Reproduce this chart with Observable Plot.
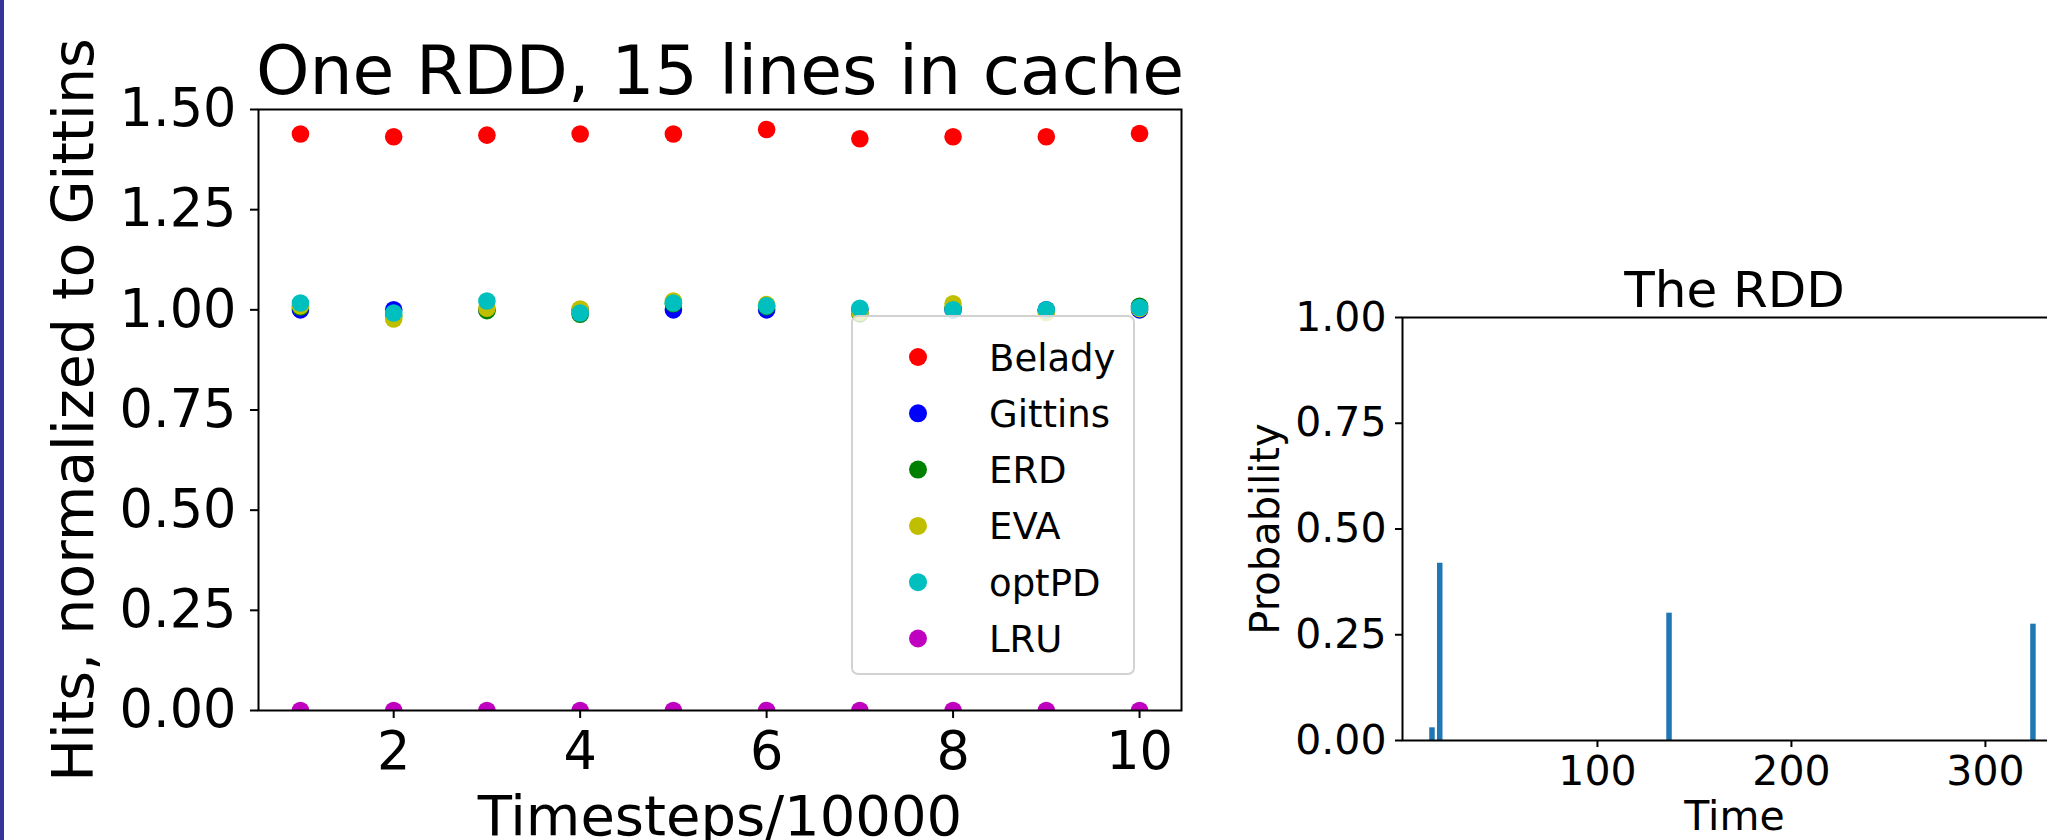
<!DOCTYPE html>
<html>
<head>
<meta charset="utf-8">
<script src="https://cdn.jsdelivr.net/npm/d3@7"></script>
<script src="https://cdn.jsdelivr.net/npm/@observablehq/plot@0.6"></script>
<style>
html, body { margin: 0; padding: 0; background: #fff; overflow: hidden; width: 2047px; height: 840px; }
#stage { position: relative; width: 2047px; height: 840px; overflow: hidden; font-family: "DejaVu Sans", sans-serif; background: #fff; }
#border { position: absolute; left: 0; top: 0; width: 4px; height: 840px; background: #34349a; }
.holder { position: absolute; top: 0; }
.holder svg { max-width: none !important; }
</style>
</head>
<body>
<div id="stage"><div id="border"></div></div>
<script>
// ---------- data: left chart ----------
const leftTitle = "One RDD, 15 lines in cache";
const leftXLabel = "Timesteps/10000";
const leftYLabel = "Hits, normalized to Gittins";
const timesteps = [1, 2, 3, 4, 5, 6, 7, 8, 9, 10];
const seriesNames = ["Belady", "Gittins", "ERD", "EVA", "optPD", "LRU"];
const seriesColors = ["#ff0000", "#0000ff", "#008000", "#bfbf00", "#00bfbf", "#bf00bf"];
const belady  = [1.439, 1.432, 1.436, 1.439, 1.439, 1.450, 1.427, 1.432, 1.432, 1.440];
const gittins = [1.000, 1.000, 1.000, 1.000, 1.000, 1.000, 1.000, 1.000, 1.000, 1.000];
const erd     = [1.007, 0.985, 0.998, 0.989, 1.015, 1.008, 0.990, 1.005, 0.997, 1.009];
const eva     = [1.010, 0.977, 1.004, 1.002, 1.022, 1.013, 0.994, 1.015, 0.993, 1.003];
const optpd   = [1.017, 0.992, 1.022, 0.992, 1.017, 1.010, 1.004, 1.000, 1.000, 1.006];
const lru     = [0, 0, 0, 0, 0, 0, 0, 0, 0, 0];
const leftXTicks = [2, 4, 6, 8, 10];
const leftYTicks = [0, 0.25, 0.5, 0.75, 1.0, 1.25, 1.5];

// ---------- data: right chart ----------
const rightTitle = "The RDD";
const rightXLabel = "Time";
const rightYLabel = "Probability";
const rddTimes = [14.7, 18.7, 136.9, 324.5];
const rddProbs = [0.030, 0.419, 0.301, 0.275];
const rightXTicks = [100, 200, 300];
const rightYTicks = [0, 0.25, 0.5, 0.75, 1.0];

const seriesValues = [belady, gittins, erd, eva, optpd, lru];
const rows = [];
seriesNames.forEach((name, i) => {
  timesteps.forEach((t, j) => rows.push({series: name, t, v: seriesValues[i][j]}));
});
const rdd = rddTimes.map((t, i) => ({t, p: rddProbs[i]}));

const FONT = "DejaVu Sans";
const stage = document.getElementById("stage");

// ---------- left chart ----------
const left = Plot.plot({
  width: 1240, height: 840,
  marginLeft: 258, marginRight: 59, marginTop: 109, marginBottom: 130,
  style: {fontFamily: FONT, fontSize: "52px", color: "black", background: "transparent", overflow: "visible"},
  x: {domain: [0.55, 10.45]},
  y: {domain: [0, 1.5]},
  color: {domain: seriesNames, range: seriesColors},
  marks: [
    Plot.dot(rows, {x: "t", y: "v", fill: "series", r: 8.8, clip: true}),
    Plot.frame({stroke: "black", strokeWidth: 2}),
    Plot.axisX({ticks: leftXTicks, tickSize: 8, tickPadding: 13, fontSize: 52.5, strokeWidth: 2, label: null, tickFormat: d => String(d)}),
    Plot.axisY({ticks: leftYTicks, tickSize: 8, tickPadding: 14, fontSize: 52.5, strokeWidth: 2, label: null, tickFormat: d3.format(".2f")}),
    Plot.text([leftTitle], {frameAnchor: "top", dy: -37, fontSize: 68, textAnchor: "middle", lineAnchor: "middle", fill: "black"}),
    Plot.text([leftXLabel], {frameAnchor: "bottom", dy: 107, fontSize: 56, textAnchor: "middle", lineAnchor: "middle", fill: "black"}),
    Plot.text([leftYLabel], {frameAnchor: "left", dx: -184, rotate: -90, fontSize: 57, textAnchor: "middle", lineAnchor: "middle", fill: "black"})
  ]
});
const lh = document.createElement("div");
lh.className = "holder";
lh.style.left = "0px";
lh.style.width = "1240px";
lh.appendChild(left);
stage.appendChild(lh);

// ---------- right chart ----------
const right = Plot.plot({
  width: 906, height: 840,
  marginLeft: 202, marginRight: 40, marginTop: 317, marginBottom: 100,
  style: {fontFamily: FONT, fontSize: "41px", color: "black", background: "transparent", overflow: "visible"},
  x: {domain: [-0.5, 341.8]},
  y: {domain: [0, 1]},
  marks: [
    Plot.ruleX(rdd, {x: "t", y1: 0, y2: "p", stroke: "#1f77b4", strokeWidth: 5.5}),
    Plot.frame({stroke: "black", strokeWidth: 2}),
    Plot.axisX({ticks: rightXTicks, tickSize: 7, tickPadding: 8, fontSize: 41, strokeWidth: 2, label: null, tickFormat: d => String(d)}),
    Plot.axisY({ticks: rightYTicks, tickSize: 7, tickPadding: 9, fontSize: 41, strokeWidth: 2, label: null, tickFormat: d3.format(".2f")}),
    Plot.text([rightTitle], {frameAnchor: "top", dy: -27, fontSize: 50, textAnchor: "middle", lineAnchor: "middle", fill: "black"}),
    Plot.text([rightXLabel], {frameAnchor: "bottom", dy: 76, fontSize: 41, textAnchor: "middle", lineAnchor: "middle", fill: "black"}),
    Plot.text([rightYLabel], {frameAnchor: "left", dx: -136, rotate: -90, fontSize: 40, textAnchor: "middle", lineAnchor: "middle", fill: "black"})
  ]
});
const rh = document.createElement("div");
rh.className = "holder";
rh.style.left = "1200px";
rh.style.width = "906px";
rh.appendChild(right);
stage.appendChild(rh);

// ---------- legend ----------
const legBox = {left: 851, top: 315, width: 284, height: 360, border: 2};
const leg = document.createElement("div");
leg.style.cssText = `position:absolute;left:${legBox.left}px;top:${legBox.top}px;width:${legBox.width}px;height:${legBox.height}px;box-sizing:border-box;border:${legBox.border}px solid #d2d2d2;border-radius:7px;background:rgba(255,255,255,0.8);`;
stage.appendChild(leg);
const inner = legBox.width - 2 * legBox.border, innerH = legBox.height - 2 * legBox.border;
const lsvg = d3.select(leg).append("svg")
  .attr("width", inner).attr("height", innerH)
  .style("display", "block")
  .style("font-family", FONT);
const ox = legBox.left + legBox.border, oy = legBox.top + legBox.border;
const rowY = i => 357 + i * 56.3 - oy;
seriesNames.forEach((name, i) => {
  lsvg.append("circle").attr("cx", 918 - ox).attr("cy", rowY(i)).attr("r", 9).attr("fill", seriesColors[i]);
  lsvg.append("text").attr("x", 989 - ox).attr("y", rowY(i) + 13.5)
    .attr("font-size", 37).attr("fill", "black").text(name);
});
</script>
</body>
</html>
